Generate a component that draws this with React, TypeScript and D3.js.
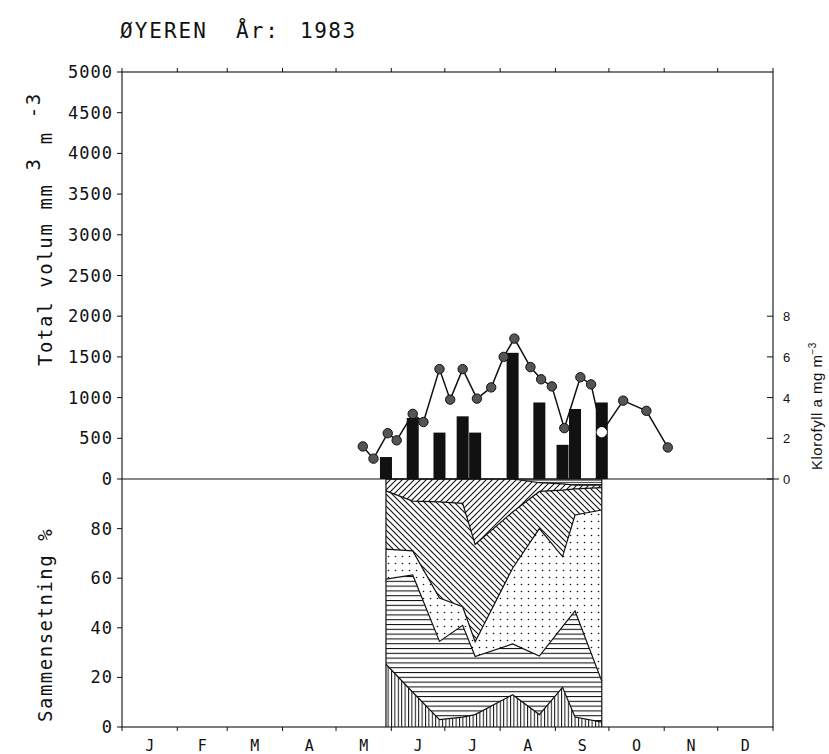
import React from "react";
import * as d3 from "d3";

// ---------- data ----------
const titleLake = "ØYEREN";
const titleYearLabel = "År:";
const titleYear = "1983";
const monthLabels = ["J", "F", "M", "A", "M", "J", "J", "A", "S", "O", "N", "D"];
const volumeTicks = [0, 500, 1000, 1500, 2000, 2500, 3000, 3500, 4000, 4500, 5000];
const percentTicks = [0, 20, 40, 60, 80];
const chlTicks = [0, 2, 4, 6, 8];

// sampling dates for phytoplankton volume + composition
const sampleDates = [
  "1983-05-29", "1983-06-13", "1983-06-28", "1983-07-11", "1983-07-18",
  "1983-08-08", "1983-08-23", "1983-09-05", "1983-09-12", "1983-09-27",
];
const totalVolume = [270, 750, 570, 770, 570, 1550, 940, 420, 860, 940];

// chlorophyll a
const chlDates = [
  "1983-05-16", "1983-05-22", "1983-05-30", "1983-06-04", "1983-06-13", "1983-06-19",
  "1983-06-28", "1983-07-04", "1983-07-11", "1983-07-19", "1983-07-27", "1983-08-03",
  "1983-08-09", "1983-08-18", "1983-08-24", "1983-08-30", "1983-09-06", "1983-09-15",
  "1983-09-21", "1983-09-27", "1983-10-09", "1983-10-22", "1983-11-03",
];
const chlValues = [
  1.6, 1.0, 2.25, 1.9, 3.2, 2.8, 5.4, 3.9, 5.4, 3.95, 4.5, 6.0,
  6.9, 5.5, 4.9, 4.55, 2.5, 5.0, 4.65, 2.3, 3.85, 3.35, 1.55,
];
const chlOpenDates = ["1983-09-27"];

// composition (% of total volume), bottom to top
const groupKeys = ["vertical", "horizontal", "dots", "backslash", "slash", "dense"];
const shareVertical = [25.3, 14, 3, 4, 5, 13, 5, 16, 4, 2];
const shareHorizontal = [34.3, 47.3, 31.5, 37, 23.4, 20.5, 23.6, 24.5, 42.8, 16.5];
const shareDots = [12.1, 9.7, 17.5, 7.5, 6, 30.5, 51.4, 28.2, 38.7, 69];
const shareBackslash = [23.5, 20.1, 38.8, 41.7, 39.2, 22.7, 15, 26.8, 10.5, 9];
const shareSlash = [4.8, 8.9, 9.2, 9.8, 26.4, 13.3, 3.5, 2.5, 1.5, 1];
const shareDense = [0, 0, 0, 0, 0, 0, 1.5, 2, 2.5, 2.5];

// ---------- chart ----------
const W = 829;
const H = 754;
const left = 122;
const right = 773;
const top = 72;
const zeroY = 479;
const bottom = 727;
const plotFont = "'DejaVu Sans Mono', monospace";
const helv = "'Liberation Sans', Arial, sans-serif";
const ink = "#111";

export default function App() {
  const parse = d3.timeParse("%Y-%m-%d");
  const x = d3
    .scaleTime()
    .domain([new Date(1983, 0, 1), new Date(1984, 0, 1)])
    .range([left, right]);
  const yVol = d3.scaleLinear().domain([0, 5000]).range([zeroY, top]);
  const yChl = d3.scaleLinear().domain([0, 20]).range([zeroY, top]);
  const yPct = d3.scaleLinear().domain([0, 100]).range([bottom, zeroY]);

  const monthStarts = d3.timeMonth.range(new Date(1983, 0, 1), new Date(1984, 0, 2));
  const monthMids = monthStarts.slice(0, 12).map((m, i) => new Date((+m + +monthStarts[i + 1]) / 2));

  const rows = sampleDates.map((d, i) => ({
    date: parse(d) as Date,
    vertical: shareVertical[i],
    horizontal: shareHorizontal[i],
    dots: shareDots[i],
    backslash: shareBackslash[i],
    slash: shareSlash[i],
    dense: shareDense[i],
  }));
  const series = d3.stack<any>().keys(groupKeys)(rows);
  const area = d3
    .area<any>()
    .x((d) => x(d.data.date))
    .y0((d) => yPct(d[0]))
    .y1((d) => yPct(d[1]));
  const topLine = d3
    .line<any>()
    .x((d) => x(d.data.date))
    .y((d) => yPct(d[1]));

  const chlPts = chlDates.map((d, i) => ({ date: parse(d) as Date, v: chlValues[i], open: chlOpenDates.includes(d) }));
  const chlLine = d3
    .line<any>()
    .x((d) => x(d.date))
    .y((d) => yChl(d.v));

  const barW = 12;
  const firstX = x(rows[0].date);
  const lastX = x(rows[rows.length - 1].date);

  return (
    <svg width={W} height={H} style={{ position: "absolute", left: 0, top: 0, background: "#fff" }}>
      <defs>
        <pattern id="pat-vertical" width={3.4} height={10} patternUnits="userSpaceOnUse">
          <rect width={3.4} height={10} fill="#fff" />
          <line x1={0.5} y1={0} x2={0.5} y2={10} stroke={ink} strokeWidth={1} />
        </pattern>
        <pattern id="pat-horizontal" width={10} height={4.8} patternUnits="userSpaceOnUse">
          <rect width={10} height={4.8} fill="#fff" />
          <line x1={0} y1={0.5} x2={10} y2={0.5} stroke={ink} strokeWidth={1.1} />
        </pattern>
        <pattern id="pat-dots" width={7} height={7} patternUnits="userSpaceOnUse">
          <rect width={7} height={7} fill="#fff" />
          <circle cx={3.5} cy={3.5} r={0.8} fill={ink} />
        </pattern>
        <pattern id="pat-backslash" width={6} height={6} patternUnits="userSpaceOnUse">
          <rect width={6} height={6} fill="#fff" />
          <path d="M0,0 L6,6 M-1,5 L1,7 M5,-1 L7,1" stroke={ink} strokeWidth={1.1} />
        </pattern>
        <pattern id="pat-slash" width={6} height={6} patternUnits="userSpaceOnUse">
          <rect width={6} height={6} fill="#fff" />
          <path d="M0,6 L6,0 M-1,1 L1,-1 M5,7 L7,5" stroke={ink} strokeWidth={1.1} />
        </pattern>
        <pattern id="pat-dense" width={6} height={2.2} patternUnits="userSpaceOnUse">
          <rect width={6} height={2.2} fill="#fff" />
          <line x1={0} y1={0.5} x2={6} y2={0.5} stroke={ink} strokeWidth={1} />
        </pattern>
      </defs>

      {/* title */}
      <text x={120} y={38} fontFamily={plotFont} fontSize={21} letterSpacing={2} fill={ink}>
        {titleLake}
      </text>
      <text x={236} y={38} fontFamily={plotFont} fontSize={21} letterSpacing={2} fill={ink}>
        {titleYearLabel}
      </text>
      <text x={300} y={38} fontFamily={plotFont} fontSize={21} letterSpacing={1.5} fill={ink}>
        {titleYear}
      </text>

      {/* composition areas */}
      {series.map((s) => (
        <path key={s.key} d={area(s) || ""} fill={`url(#pat-${s.key})`} stroke="none" />
      ))}
      {series.map((s) => (
        <path key={"l" + s.key} d={topLine(s) || ""} fill="none" stroke={ink} strokeWidth={1.2} />
      ))}
      <line x1={firstX} y1={zeroY} x2={firstX} y2={bottom} stroke={ink} strokeWidth={1.2} />
      <line x1={lastX} y1={zeroY} x2={lastX} y2={bottom} stroke={ink} strokeWidth={1.2} />

      {/* bars */}
      {rows.map((r, i) => (
        <rect
          key={"b" + i}
          x={x(r.date) - barW / 2}
          y={yVol(totalVolume[i])}
          width={barW}
          height={zeroY - yVol(totalVolume[i])}
          fill={ink}
        />
      ))}

      {/* frame */}
      <rect x={left} y={top} width={right - left} height={bottom - top} fill="none" stroke={ink} strokeWidth={1.1} />
      <line x1={left} y1={zeroY} x2={right + 6} y2={zeroY} stroke={ink} strokeWidth={1.2} />

      {/* month ticks + labels */}
      {monthStarts.map((m, i) => (
        <g key={"mt" + i}>
          <line x1={x(m)} y1={top} x2={x(m)} y2={top - 4} stroke={ink} strokeWidth={1} />
          <line x1={x(m)} y1={bottom} x2={x(m)} y2={bottom + 4} stroke={ink} strokeWidth={1} />
        </g>
      ))}
      {monthMids.map((m, i) => (
        <text key={"ml" + i} x={x(m)} y={751} textAnchor="middle" fontFamily={plotFont} fontSize={15} fill={ink}>
          {monthLabels[i]}
        </text>
      ))}

      {/* left volume axis */}
      {volumeTicks.map((t) => (
        <g key={"v" + t}>
          <line x1={left - 5} y1={yVol(t)} x2={left} y2={yVol(t)} stroke={ink} strokeWidth={1} />
          <text x={113} y={yVol(t) + 6} textAnchor="end" fontFamily={plotFont} fontSize={17} letterSpacing={1} fill={ink}>
            {t}
          </text>
        </g>
      ))}
      {/* left percent axis */}
      {percentTicks.map((t) => (
        <g key={"p" + t}>
          <line x1={left - 5} y1={yPct(t)} x2={left} y2={yPct(t)} stroke={ink} strokeWidth={1} />
          <text x={113} y={yPct(t) + 6} textAnchor="end" fontFamily={plotFont} fontSize={17} letterSpacing={1} fill={ink}>
            {t}
          </text>
        </g>
      ))}

      {/* right chlorophyll axis */}
      {chlTicks.map((t) => (
        <g key={"c" + t}>
          <line x1={right - 6} y1={yChl(t)} x2={right} y2={yChl(t)} stroke={ink} strokeWidth={1} />
          <text x={783} y={yChl(t) + 5} fontFamily={helv} fontSize={13} fill={ink}>
            {t}
          </text>
        </g>
      ))}

      {/* axis titles */}
      <text transform="translate(52,366) rotate(-90)" fontFamily={plotFont} fontSize={19} letterSpacing={1.6} fill={ink}>
        Total volum mm
        <tspan dy={-12} fontSize={19}> 3</tspan>
        <tspan dy={12}> m</tspan>
        <tspan dy={-12} fontSize={19}> -3</tspan>
      </text>
      <text transform="translate(52,722) rotate(-90)" fontFamily={plotFont} fontSize={19} letterSpacing={1.5} fill={ink}>
        Sammensetning %
      </text>
      <text transform="translate(822,470) rotate(-90)" fontFamily={helv} fontSize={15} letterSpacing={0.5} fill={ink}>
        Klorofyll a mg m
        <tspan dy={-6} fontSize={10}>−3</tspan>
      </text>

      {/* chlorophyll line */}
      <path d={chlLine(chlPts) || ""} fill="none" stroke={ink} strokeWidth={1.5} />
      {chlPts.map((p, i) => (
        <circle
          key={"cp" + i}
          cx={x(p.date)}
          cy={yChl(p.v)}
          r={4.7}
          fill={p.open ? "#fff" : "#555"}
          stroke={p.open ? "#fff" : ink}
          strokeWidth={1}
        />
      ))}
    </svg>
  );
}
